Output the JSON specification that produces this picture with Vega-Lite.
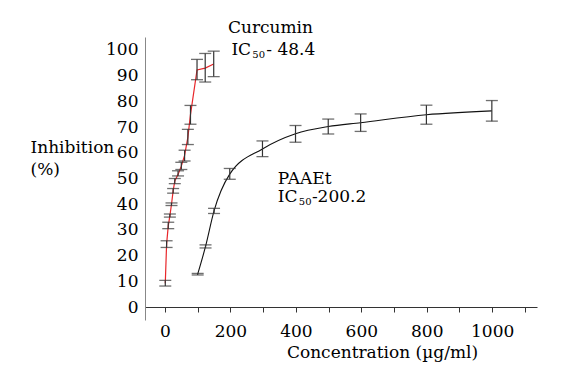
{
  "$schema": "https://vega.github.io/schema/vega-lite/v6.json",
  "width": 392,
  "height": 283,
  "autosize": "none",
  "padding": {"left": 145, "top": 37, "right": 35, "bottom": 55},
  "background": "white",
  "config": {
    "view": {"stroke": null},
    "font": "DejaVu Serif",
    "axisY": {
      "ticks": false,
      "grid": false,
      "domainColor": "#888",
      "labelPadding": 7,
      "labelFont": "DejaVu Serif",
      "labelFontSize": 17,
      "labelColor": "#000",
      "labelOverlap": false,
      "titleAngle": 0,
      "titleAlign": "left",
      "titleBaseline": "alphabetic",
      "titleX": -115,
      "titleY": 115,
      "titleFont": "DejaVu Serif",
      "titleFontSize": 17,
      "titleFontWeight": "normal",
      "titleColor": "#000",
      "titleLineHeight": 22
    }
  },
  "datasets": {
    "cur": [
      {"x": 1, "y": 9.3, "lo": 8.2, "hi": 10.4},
      {"x": 5, "y": 24.5, "lo": 23.2, "hi": 25.8},
      {"x": 10, "y": 31.5, "lo": 30.5, "hi": 33},
      {"x": 15, "y": 35.5, "lo": 35, "hi": 36.2},
      {"x": 20, "y": 40, "lo": 39.5, "hi": 40.5},
      {"x": 25, "y": 45.2, "lo": 44.3, "hi": 46.1},
      {"x": 30, "y": 49, "lo": 48, "hi": 50},
      {"x": 40, "y": 51.6, "lo": 51, "hi": 53},
      {"x": 50, "y": 54.8, "lo": 53.5, "hi": 56.3},
      {"x": 60, "y": 59, "lo": 56.8, "hi": 61},
      {"x": 70, "y": 66, "lo": 63.2, "hi": 69.1},
      {"x": 78, "y": 74.8, "lo": 71.1, "hi": 78.4},
      {"x": 98, "y": 92.2, "lo": 88.4, "hi": 96.3},
      {"x": 123, "y": 92.9, "lo": 87.5, "hi": 98.6},
      {"x": 149, "y": 94.5, "lo": 89.6, "hi": 99.5}
    ],
    "paa": [
      {"x": 100, "y": 12.8, "lo": 12.5, "hi": 13.1},
      {"x": 124, "y": 23.6, "lo": 23, "hi": 24.2},
      {"x": 150, "y": 37.4, "lo": 36.4, "hi": 38.4},
      {"x": 198, "y": 51.7, "lo": 49.7, "hi": 53.9},
      {"x": 298, "y": 61.5, "lo": 58.5, "hi": 64.6},
      {"x": 399, "y": 67.4, "lo": 64.1, "hi": 70.6},
      {"x": 499, "y": 70.2, "lo": 67.3, "hi": 73.1},
      {"x": 598, "y": 71.7, "lo": 68.3, "hi": 75.1},
      {"x": 799, "y": 74.8, "lo": 71.1, "hi": 78.5},
      {"x": 999, "y": 76.3, "lo": 72.3, "hi": 80.3}
    ],
    "lab": [
      {"x": 192.5, "y": 106.4, "t": "Curcumin"},
      {"x": 203, "y": 98.0, "t": "IC"},
      {"x": 309.5, "y": 98.0, "t": "- 48.4"},
      {"x": 345, "y": 48.0, "t": "PAAEt"},
      {"x": 345, "y": 40.9, "t": "IC"},
      {"x": 449, "y": 40.9, "t": "-200.2"}
    ],
    "sub": [
      {"x": 267, "y": 97.0, "t": "50"},
      {"x": 409, "y": 39.6, "t": "50"}
    ]
  },
  "encoding": {
    "x": {
      "field": "x",
      "type": "quantitative",
      "scale": {"domain": [-61, 1137], "nice": false, "zero": false},
      "axis": {
        "values": [0, 100, 200, 300, 400, 500, 600, 700, 800, 900, 1000, 1100],
        "format": "d",
        "labelExpr": "datum.value % 200 === 0 ? datum.label : ''",
        "grid": false,
        "domainColor": "#333",
        "tickColor": "#333",
        "tickSize": 5,
        "labelFont": "DejaVu Serif",
        "labelFontSize": 17,
        "labelColor": "#000",
        "labelBaseline": "alphabetic",
        "labelPadding": 24,
        "labelFlush": false,
        "labelOverlap": false,
        "offset": -13,
        "title": "Concentration (µg/ml)",
        "titleFont": "DejaVu Serif",
        "titleFontSize": 17,
        "titleFontWeight": "normal",
        "titleColor": "#000",
        "titleX": 237,
        "titleY": 50,
        "titleAlign": "center",
        "titleBaseline": "alphabetic"
      }
    },
    "y": {
      "field": "y",
      "type": "quantitative",
      "scale": {"domain": [-5, 105], "nice": false, "zero": false},
      "axis": {"values": [0, 10, 20, 30, 40, 50, 60, 70, 80, 90, 100], "title": ["Inhibition", "(%)"]}
    }
  },
  "layer": [
    {
      "data": {"name": "cur"},
      "mark": {"type": "line", "color": "#e8262a", "strokeWidth": 1.2}
    },
    {
      "data": {"name": "cur"},
      "mark": {"type": "rule", "color": "#333", "strokeWidth": 1.2},
      "encoding": {
        "y": {"field": "lo", "type": "quantitative", "scale": {"domain": [-5, 105], "nice": false, "zero": false}, "axis": {"values": [0, 10, 20, 30, 40, 50, 60, 70, 80, 90, 100], "title": ["Inhibition", "(%)"]}},
        "y2": {"field": "hi"}
      }
    },
    {
      "data": {"name": "cur"},
      "mark": {"type": "tick", "orient": "horizontal", "color": "#333", "size": 12, "thickness": 1.3},
      "encoding": {
        "y": {"field": "lo", "type": "quantitative", "scale": {"domain": [-5, 105], "nice": false, "zero": false}, "axis": {"values": [0, 10, 20, 30, 40, 50, 60, 70, 80, 90, 100], "title": ["Inhibition", "(%)"]}}
      }
    },
    {
      "data": {"name": "cur"},
      "mark": {"type": "tick", "orient": "horizontal", "color": "#333", "size": 12, "thickness": 1.3},
      "encoding": {
        "y": {"field": "hi", "type": "quantitative", "scale": {"domain": [-5, 105], "nice": false, "zero": false}, "axis": {"values": [0, 10, 20, 30, 40, 50, 60, 70, 80, 90, 100], "title": ["Inhibition", "(%)"]}}
      }
    },
    {
      "data": {"name": "paa"},
      "mark": {"type": "line", "color": "#111", "strokeWidth": 1.1, "interpolate": "monotone"}
    },
    {
      "data": {"name": "paa"},
      "mark": {"type": "rule", "color": "#333", "strokeWidth": 1.2},
      "encoding": {
        "y": {"field": "lo", "type": "quantitative", "scale": {"domain": [-5, 105], "nice": false, "zero": false}, "axis": {"values": [0, 10, 20, 30, 40, 50, 60, 70, 80, 90, 100], "title": ["Inhibition", "(%)"]}},
        "y2": {"field": "hi"}
      }
    },
    {
      "data": {"name": "paa"},
      "mark": {"type": "tick", "orient": "horizontal", "color": "#333", "size": 12, "thickness": 1.3},
      "encoding": {
        "y": {"field": "lo", "type": "quantitative", "scale": {"domain": [-5, 105], "nice": false, "zero": false}, "axis": {"values": [0, 10, 20, 30, 40, 50, 60, 70, 80, 90, 100], "title": ["Inhibition", "(%)"]}}
      }
    },
    {
      "data": {"name": "paa"},
      "mark": {"type": "tick", "orient": "horizontal", "color": "#333", "size": 12, "thickness": 1.3},
      "encoding": {
        "y": {"field": "hi", "type": "quantitative", "scale": {"domain": [-5, 105], "nice": false, "zero": false}, "axis": {"values": [0, 10, 20, 30, 40, 50, 60, 70, 80, 90, 100], "title": ["Inhibition", "(%)"]}}
      }
    },
    {
      "data": {"name": "lab"},
      "mark": {"type": "text", "font": "DejaVu Serif", "fontSize": 17, "align": "left", "baseline": "alphabetic", "color": "#000"},
      "encoding": {"text": {"field": "t"}}
    },
    {
      "data": {"name": "sub"},
      "mark": {"type": "text", "font": "DejaVu Serif", "fontSize": 10, "align": "left", "baseline": "alphabetic", "color": "#000"},
      "encoding": {"text": {"field": "t"}}
    }
  ]
}
